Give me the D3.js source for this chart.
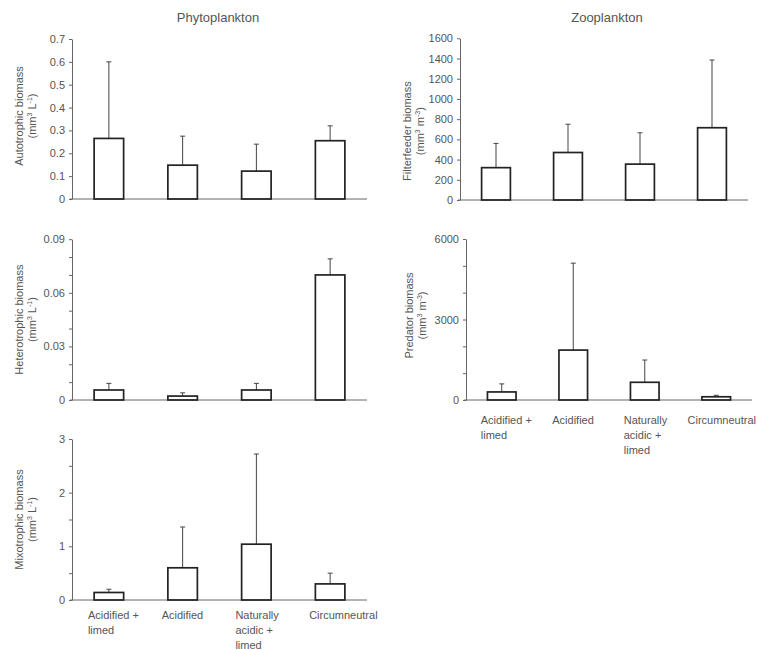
<!DOCTYPE html>
<html>
<head>
<meta charset="utf-8">
<script src="https://cdn.jsdelivr.net/npm/d3@7"></script>
<style>
  body { margin: 0; background: #fff; }
  text { font-family: "Liberation Sans", Arial, sans-serif; fill: #555; }
</style>
</head>
<body>
<svg width="758" height="650"></svg>
<script>
var svg = d3.select('svg');

// data
var categories = ['Acidified + limed', 'Acidified', 'Naturally acidic + limed', 'Circumneutral'];
var categoryLines = [['Acidified +', 'limed'], ['Acidified'], ['Naturally', 'acidic +', 'limed'], ['Circumneutral']];

var autoMean = [0.265, 0.148, 0.122, 0.255];
var autoUpper = [0.60, 0.275, 0.24, 0.32];

var heteroMean = [0.0056, 0.0022, 0.0056, 0.070];
var heteroUpper = [0.0093, 0.0040, 0.0093, 0.079];

var mixoMean = [0.14, 0.60, 1.04, 0.30];
var mixoUpper = [0.20, 1.36, 2.72, 0.50];

var filterMean = [320, 470, 355, 715];
var filterUpper = [560, 750, 665, 1385];

var predMean = [300, 1860, 660, 120];
var predUpper = [600, 5100, 1490, 175];

var autoTicks = [0, 0.1, 0.2, 0.3, 0.4, 0.5, 0.6, 0.7];
var heteroTicks = [0, 0.01, 0.02, 0.03, 0.04, 0.05, 0.06, 0.07, 0.08, 0.09];
var heteroLabels = [0, 0.03, 0.06, 0.09];
var mixoTicks = [0, 0.5, 1, 1.5, 2, 2.5, 3];
var mixoLabels = [0, 1, 2, 3];
var filterTicks = [0, 200, 400, 600, 800, 1000, 1200, 1400, 1600];
var predTicks = [0, 1000, 2000, 3000, 4000, 5000, 6000];
var predLabels = [0, 3000, 6000];

function drawPanel(p) {
    var x = d3.scaleBand()
        .domain(categories)
        .range([p.x0, p.x1])
        .paddingInner(0.6)
        .paddingOuter(0.3);

    var y = d3.scaleLinear()
        .domain(p.domain)
        .range([p.yb, p.yt]);

    var g = svg.append('g');

    // y axis
    var axis = d3.axisLeft(y)
        .tickValues(p.ticks)
        .tickSize(3)
        .tickSizeOuter(0)
        .tickPadding(4)
        .tickFormat(function(d){
            if (p.labels && p.labels.indexOf(d) < 0) return '';
            return p.fmt(d);
        });

    var ax = g.append('g')
        .attr('transform', 'translate(' + p.x0 + ',0)')
        .call(axis);
    ax.select('.domain').attr('stroke', '#666');
    ax.selectAll('.tick line').attr('stroke', '#666');
    ax.selectAll('.tick text')
        .attr('font-size', 11)
        .attr('font-family', '"Liberation Sans", Arial, sans-serif')
        .attr('fill', '#555');

    // x axis line
    g.append('line')
        .attr('x1', p.x0 - 2)
        .attr('x2', p.x1)
        .attr('y1', y(0))
        .attr('y2', y(0))
        .attr('stroke', '#666')
        .attr('stroke-width', 1);

    var data = categories.map(function(c, i){
        return {cat: c, mean: p.mean[i], upper: p.upper[i], lines: categoryLines[i]};
    });

    // error bars
    g.selectAll('.err')
        .data(data)
        .enter()
        .append('line')
        .attr('x1', function(d){ return x(d.cat) + x.bandwidth() / 2; })
        .attr('x2', function(d){ return x(d.cat) + x.bandwidth() / 2; })
        .attr('y1', function(d){ return y(d.mean); })
        .attr('y2', function(d){ return y(d.upper); })
        .attr('stroke', '#444')
        .attr('stroke-width', 1);

    g.selectAll('.cap')
        .data(data)
        .enter()
        .append('line')
        .attr('x1', function(d){ return x(d.cat) + x.bandwidth() / 2 - 2.5; })
        .attr('x2', function(d){ return x(d.cat) + x.bandwidth() / 2 + 2.5; })
        .attr('y1', function(d){ return y(d.upper); })
        .attr('y2', function(d){ return y(d.upper); })
        .attr('stroke', '#444')
        .attr('stroke-width', 1);

    // bars
    g.selectAll('.bar')
        .data(data)
        .enter()
        .append('rect')
        .attr('x', function(d){ return x(d.cat); })
        .attr('y', function(d){ return y(d.mean); })
        .attr('width', x.bandwidth())
        .attr('height', function(d){ return y(0) - y(d.mean); })
        .attr('fill', 'none')
        .attr('stroke', '#222')
        .attr('stroke-width', 1.7);

    // y label, two lines
    var cy = (p.yt + p.yb) / 2 + (p.labelDy || 0);
    g.append('text')
        .attr('transform', 'translate(' + p.lx + ',' + cy + ') rotate(-90)')
        .attr('text-anchor', 'middle')
        .attr('font-size', 11)
        .text(p.label);

    var unit = g.append('text')
        .attr('transform', 'translate(' + (p.lx + 13) + ',' + cy + ') rotate(-90)')
        .attr('text-anchor', 'middle')
        .attr('font-size', 11);
    unit.append('tspan').text('(mm');
    unit.append('tspan').attr('font-size', 7).attr('dy', -4).text('3');
    unit.append('tspan').attr('dy', 4).text(' ' + p.unit);
    unit.append('tspan').attr('font-size', 7).attr('dy', -4).text(p.unitExp);
    unit.append('tspan').attr('dy', 4).text(')');

    // category labels, left aligned a little left of the bar centre
    if (p.catDy) {
        data.forEach(function(d){
            var cx = x(d.cat) + x.bandwidth() / 2 - 21;
            var t = g.append('text')
                .attr('font-size', 11)
                .attr('y', y(0) + p.catDy);
            d.lines.forEach(function(s, k){
                t.append('tspan')
                    .attr('x', cx)
                    .attr('dy', k == 0 ? 0 : 15)
                    .text(s);
            });
            // keep it inside the page
            var w = t.node().getBBox().width;
            if (cx + w > 756) {
                t.selectAll('tspan').attr('x', 756 - w);
            }
        });
    }
}

var f1 = d3.format('.1f');
var f2 = d3.format('.2f');

drawPanel({x0: 72, x1: 367, yt: 39, yb: 199, domain: [0, 0.7], ticks: autoTicks,
    fmt: function(d){ return d == 0 ? '0' : f1(d); },
    mean: autoMean, upper: autoUpper, label: 'Autotrophic biomass', unit: 'L', unitExp: '-1',
    lx: 23, labelDy: -3});

drawPanel({x0: 72, x1: 367, yt: 239.2, yb: 400, domain: [0, 0.09], ticks: heteroTicks, labels: heteroLabels,
    fmt: function(d){ return d == 0 ? '0' : f2(d); },
    mean: heteroMean, upper: heteroUpper, label: 'Heterotrophic biomass', unit: 'L', unitExp: '-1',
    lx: 23});

drawPanel({x0: 72, x1: 367, yt: 439, yb: 600, domain: [0, 3], ticks: mixoTicks, labels: mixoLabels,
    fmt: function(d){ return String(d); },
    mean: mixoMean, upper: mixoUpper, label: 'Mixotrophic biomass', unit: 'L', unitExp: '-1',
    lx: 23, catDy: 19});

drawPanel({x0: 460, x1: 748, yt: 38.3, yb: 200, domain: [0, 1600], ticks: filterTicks,
    fmt: function(d){ return String(d); },
    mean: filterMean, upper: filterUpper, label: 'Filterfeeder biomass', unit: 'm', unitExp: '-3',
    lx: 411, labelDy: 12});

drawPanel({x0: 466, x1: 752, yt: 239, yb: 400, domain: [0, 6000], ticks: predTicks, labels: predLabels,
    fmt: function(d){ return String(d); },
    mean: predMean, upper: predUpper, label: 'Predator biomass', unit: 'm', unitExp: '-3',
    lx: 413, labelDy: -4, catDy: 24});

// titles
svg.append('text')
    .attr('x', 218)
    .attr('y', 22)
    .attr('text-anchor', 'middle')
    .attr('font-size', 13)
    .text('Phytoplankton');

svg.append('text')
    .attr('x', 607)
    .attr('y', 22)
    .attr('text-anchor', 'middle')
    .attr('font-size', 13)
    .text('Zooplankton');
</script>
</body>
</html>
